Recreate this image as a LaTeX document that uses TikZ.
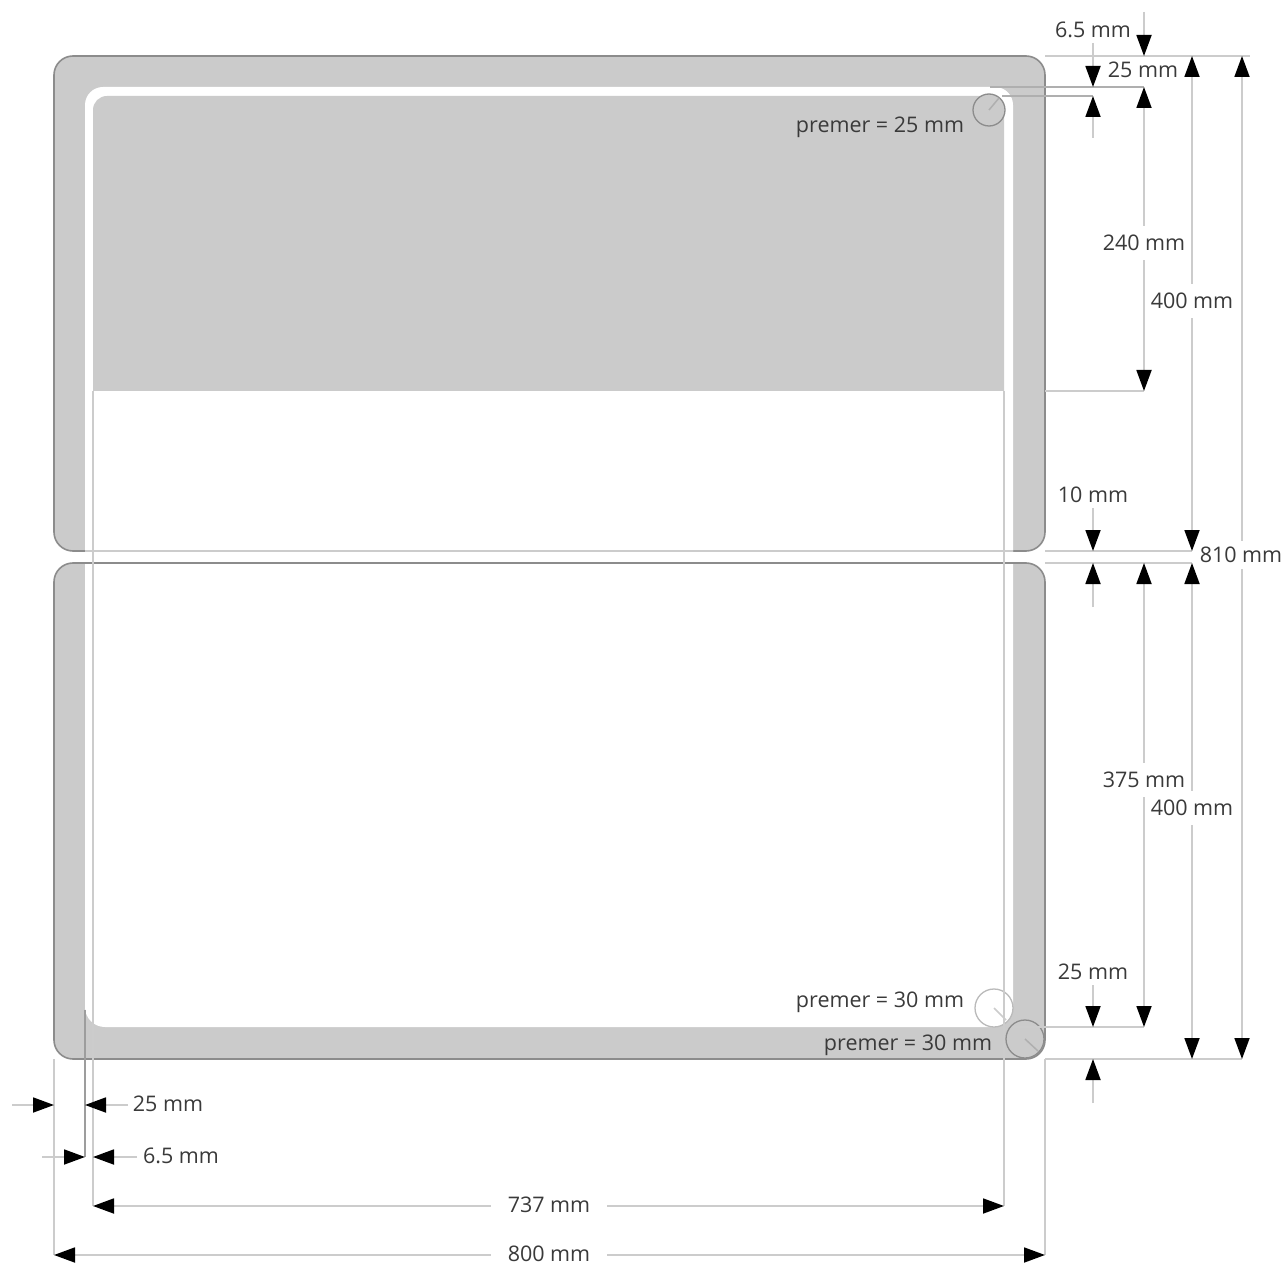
\documentclass[tikz,border=0pt]{standalone}
\usepackage{fontspec}
\setmainfont{Open Sans}
\usetikzlibrary{arrows.meta,calc}
\definecolor{panel}{HTML}{CBCBCB}
\definecolor{edge}{HTML}{8C8C8C}
\definecolor{dimline}{HTML}{CCCCCC}
\definecolor{ink}{HTML}{3A3A3A}
\tikzset{
  x=1pt,y=-1pt,
  tipped/.tip={Triangle[length=21pt,width=15pt,black,fill=black]},
  panelbox/.style={fill=panel,draw=edge,line width=1.6pt},
  dimarrow/.style={draw=dimline,line width=1.8pt,{tipped}-{tipped}},
  onearrow/.style={draw=dimline,line width=1.8pt,-{tipped}},
  ext/.style={draw=dimline,line width=1.5pt},
  extdark/.style={draw=edge,line width=1.4pt},
  lab/.style={text=ink,font=\fontsize{21.5}{25}\selectfont,inner sep=1pt},
  labgap/.style={lab,fill=white,inner xsep=17pt,inner ysep=2pt},
  labgapv/.style={lab,fill=white,inner xsep=1pt,inner ysep=9pt},
  hole/.style={draw=edge,line width=1.3pt},
}
\begin{document}
\begin{tikzpicture}
\useasboundingbox (0,0) rectangle (1286,1265);
\fill[white] (0,0) rectangle (1286,1265);
% top panel
\draw[panelbox,rounded corners=19pt] (54,56) rectangle (1045,551);
\fill[white] (85,552) -- (85,105) arc[start angle=180,end angle=270,radius=18] -- (995,87)
  arc[start angle=270,end angle=360,radius=18] -- (1013,552) -- cycle;
\fill[panel] (93,391) -- (93,110) arc[start angle=180,end angle=270,radius=14] -- (990,96)
  arc[start angle=270,end angle=360,radius=14] -- (1004,391) -- cycle;
% bottom panel
\draw[panelbox,rounded corners=19pt] (54,563) rectangle (1045,1059);
\fill[white] (85,564) -- (1013,564) -- (1013,1007)
  arc[start angle=0,end angle=90,radius=20] -- (105,1027)
  arc[start angle=90,end angle=180,radius=20] -- cycle;
% seam lines across the sheet
\draw[ext] (85,551) -- (1013,551);
\draw[extdark] (85,563) -- (1013,563);
% circles
\coordinate (c1) at (989,110);
\coordinate (c2) at (994,1008);
\coordinate (c3) at (1025,1039);
\draw[hole,fill=panel] (c1) circle[radius=16];
\draw[ext,draw=edge!70] (c1) -- ++(10,-12);
\draw[hole,draw=edge!60,fill=white] (c2) circle[radius=19];
\draw[ext] (c2) -- ++(12,12);
\draw[hole,fill=panel] (c3) circle[radius=19];
\draw[ext,draw=edge!70] (c3) -- ++(13,12);
% named anchors
\coordinate (L0) at (54,1255);   \coordinate (R0) at (1045,1255);
\coordinate (L1) at (93,1206);   \coordinate (R1) at (1004,1206);
% extension lines
\draw[ext] (54,1059) -- (L0);
\draw[ext] (1045,1059) -- (R0);
\draw[ext] (93,391) -- (L1);
\draw[ext] (1004,391) -- (R1);
\draw[extdark,draw=edge!85] (85,1010) -- (85,1157);
\draw[ext] (1045,56) -- (1250,56);
\draw[ext,draw=edge!70] (990,87) -- (1144,87);
\draw[ext,draw=edge!70] (1002,96) -- (1093,96);
\draw[ext] (1045,391) -- (1144,391);
\draw[ext] (1045,551) -- (1192,551);
\draw[ext] (1045,563) -- (1192,563);
\draw[ext] (1013,1027) -- (1144,1027);
\draw[ext] (1045,1059) -- (1242,1059);
% horizontal dimensions
\draw[dimarrow] (L0) -- (R0);
\node[labgap] (d800) at (549,1254) {800 mm};
\draw[dimarrow] (L1) -- (R1);
\node[labgap] (d737) at (549,1205) {737 mm};
\coordinate (a1) at (12,1105); \coordinate (a2) at (54,1105);
\coordinate (a3) at (128,1105); \coordinate (a4) at (85,1105);
\draw[onearrow] (a1) -- (a2);
\draw[onearrow] (a3) -- (a4);
\node[lab] (d25h) at (168,1104) {25 mm};
\coordinate (b1) at (42,1157); \coordinate (b2) at (85,1157);
\coordinate (b3) at (137,1157); \coordinate (b4) at (93,1157);
\draw[onearrow] (b1) -- (b2);
\draw[onearrow] (b3) -- (b4);
\node[lab] (d65h) at (181,1156) {6.5 mm};
% vertical dimensions x=1144
\coordinate (e1) at (1144,12); \coordinate (e2) at (1144,56);
\draw[onearrow] (e1) -- (e2);
\node[lab] (d65v) at (1093,30) {6.5 mm};
\coordinate (e3) at (1144,87); \coordinate (e4) at (1144,391);
\draw[dimarrow] (e3) -- (e4);
\node[labgapv] (d240) at (1144,243) {240 mm};
\coordinate (e5) at (1144,563); \coordinate (e6) at (1144,1027);
\draw[dimarrow] (e5) -- (e6);
\node[labgapv] (d375) at (1144,780) {375 mm};
% x=1093
\coordinate (f1) at (1093,43); \coordinate (f2) at (1093,87);
\coordinate (f3) at (1093,138); \coordinate (f4) at (1093,96);
\draw[onearrow] (f1) -- (f2);
\draw[onearrow] (f3) -- (f4);
\node[lab] (d25t) at (1143,70) {25 mm};
\coordinate (g1) at (1093,508); \coordinate (g2) at (1093,551);
\coordinate (g3) at (1093,607); \coordinate (g4) at (1093,563);
\draw[onearrow] (g1) -- (g2);
\draw[onearrow] (g3) -- (g4);
\node[lab] (d10) at (1093,495) {10 mm};
\coordinate (h1) at (1093,985); \coordinate (h2) at (1093,1027);
\coordinate (h3) at (1093,1103); \coordinate (h4) at (1093,1059);
\draw[onearrow] (h1) -- (h2);
\draw[onearrow] (h3) -- (h4);
\node[lab] (d25b) at (1093,972) {25 mm};
% x=1192
\coordinate (i1) at (1192,56); \coordinate (i2) at (1192,551);
\coordinate (i3) at (1192,563); \coordinate (i4) at (1192,1059);
\draw[dimarrow] (i1) -- (i2);
\draw[dimarrow] (i3) -- (i4);
\node[labgapv] (d400a) at (1192,301) {400 mm};
\node[labgapv] (d400b) at (1192,808) {400 mm};
% x=1242
\coordinate (j1) at (1242,56); \coordinate (j2) at (1242,1059);
\draw[dimarrow] (j1) -- (j2);
\node[labgapv,inner ysep=6pt] (d810) at (1241,555) {810 mm};
% hole labels
\node[lab] (p1) at (880,127) {premer = 25 mm};
\node[lab] (p2) at (880,1002) {premer = 30 mm};
\node[lab] (p3) at (908,1045) {premer = 30 mm};
\end{tikzpicture}
\end{document}
